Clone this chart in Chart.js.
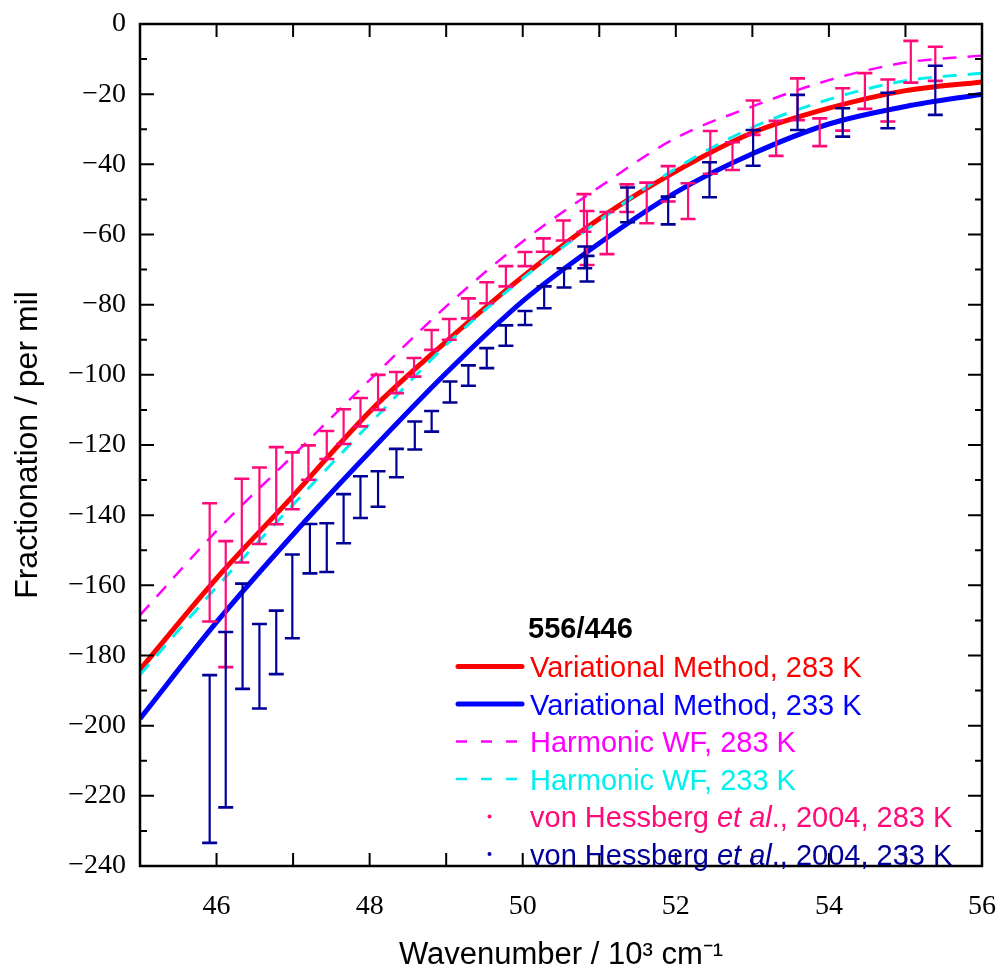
<!DOCTYPE html>
<html>
<head>
<meta charset="utf-8">
<script src="https://cdn.jsdelivr.net/npm/chart.js@4.4.1/dist/chart.umd.min.js"></script>
<style>
  html, body { margin: 0; padding: 0; background: #fff; }
  #wrap { position: relative; width: 1001px; height: 976px; }
</style>
</head>
<body>
<div id="wrap"><canvas id="fractionation-chart"></canvas></div>
<script>
// Curvas calculadas, en 10^3 cm^-1 y per mil.
const waveGrid = [45, 46, 47, 48, 49, 50, 51, 52, 53, 54, 55, 56];
const variational283 = [-184, -158, -134.5, -110.5, -90.5, -72, -55.5, -42, -31, -24, -19, -16.5];
const variational233 = [-198, -170.5, -145.5, -122, -99.5, -79, -62.5, -48, -37, -28.5, -23.5, -20];
const harmonic283 = [-168.5, -144.5, -123, -101.5, -80.5, -62, -46.5, -32.5, -23.5, -16, -11, -9];
const harmonic233 = [-185.5, -160.5, -137, -114, -91.5, -72.5, -56, -41.2, -29.5, -21.5, -16.2, -14];

// Medidas de von Hessberg et al. (2004): límites superior e inferior de cada barra.
const hessberg283Wave = [45.91, 46.12, 46.33, 46.56, 46.78, 46.99, 47.2, 47.44, 47.66, 47.88, 48.11, 48.35, 48.58, 48.81, 49.04, 49.29, 49.53, 49.78, 50.03, 50.27, 50.53, 50.8, 50.84, 51.1, 51.36, 51.62, 51.9, 52.16, 52.45, 52.74, 53.01, 53.31, 53.59, 53.88, 54.18, 54.47, 54.77, 55.07, 55.39];
const hessberg283Upper = [-136.6, -147.4, -129.6, -126.4, -120.6, -122.1, -120.1, -116, -109.8, -106.6, -100, -99.2, -95.2, -87.2, -84.1, -78.2, -73.6, -69, -65, -61.1, -56, -48.5, -53.3, -53.6, -45.7, -45.2, -40.5, -45.4, -30.5, -33.7, -21.8, -27.6, -15.5, -26.9, -18.3, -14, -15.8, -4.8, -6.5];
const hessberg283Lower = [-170.3, -183.3, -153.5, -148.2, -142.6, -138.3, -129.9, -124, -119.7, -114.7, -110, -105.2, -100.5, -92.9, -90, -83.9, -79.6, -74.8, -69, -64.9, -61.7, -59.2, -68.7, -65.6, -53.6, -56.8, -50.6, -55.6, -42.7, -41.6, -31.6, -37.6, -27.4, -34.8, -30.4, -24.2, -27.8, -16.7, -16.2];

const hessberg233Wave = [45.91, 46.12, 46.34, 46.56, 46.78, 46.99, 47.22, 47.44, 47.66, 47.88, 48.11, 48.35, 48.59, 48.81, 49.05, 49.29, 49.53, 49.78, 50.03, 50.28, 50.54, 50.81, 50.84, 51.37, 51.9, 52.44, 53.01, 53.59, 54.18, 54.77, 55.39];
const hessberg233Upper = [-185.6, -173.3, -159.5, -171, -167.2, -151.2, -142.5, -142.3, -134, -128.9, -127.5, -121.1, -113.3, -110.3, -101.9, -97.3, -92.4, -85.9, -81.8, -74.8, -69.6, -63.4, -66.1, -46.6, -49.2, -39.4, -30.2, -20.2, -24, -19.6, -11.9];
const hessberg233Lower = [-233.4, -223.3, -189.5, -195.1, -185.3, -175.1, -156.6, -156.2, -148, -140.8, -137.6, -129.2, -121.3, -116.2, -107.9, -103.1, -98.1, -91.7, -85.8, -81, -75.1, -69.6, -73.4, -56.5, -57.1, -49.4, -40.4, -30.2, -32.1, -29.7, -25.9];

const PINK = "#ff0a78";
const NAVY = "#000099";
const CYAN = "#00f0f0";

function toPoints(xs, ys) {
  return xs.map((v, i) => ({ x: v, y: ys[i] }));
}

function midPoints(xs, up, low) {
  return xs.map((v, i) => ({ x: v, y: (up[i] + low[i]) / 2 }));
}

// Barras de error dibujadas con las escalas del gráfico.
const errorBars = {
  id: "errorBars",
  afterDatasetsDraw(chart) {
    const { ctx, scales: { x, y } } = chart;
    const series = [
      { xs: hessberg283Wave, up: hessberg283Upper, low: hessberg283Lower, color: PINK },
      { xs: hessberg233Wave, up: hessberg233Upper, low: hessberg233Lower, color: NAVY },
    ];
    ctx.save();
    series.forEach(s => {
      ctx.strokeStyle = s.color;
      s.xs.forEach((v, i) => {
        const px = x.getPixelForValue(v);
        const top = y.getPixelForValue(s.up[i]);
        const bot = y.getPixelForValue(s.low[i]);
        ctx.lineWidth = 2.2;
        ctx.beginPath();
        ctx.moveTo(px, top);
        ctx.lineTo(px, bot);
        ctx.stroke();
        ctx.lineWidth = 2.6;
        ctx.beginPath();
        ctx.moveTo(px - 7.5, top);
        ctx.lineTo(px + 7.5, top);
        ctx.moveTo(px - 7.5, bot);
        ctx.lineTo(px + 7.5, bot);
        ctx.stroke();
      });
    });
    ctx.restore();
  },
};

// Marco y marcas hacia dentro en los cuatro lados.
const frameTicks = {
  id: "frameTicks",
  afterDraw(chart) {
    const { ctx, chartArea: a, scales: { x, y } } = chart;
    ctx.save();
    ctx.strokeStyle = "#000";
    ctx.lineWidth = 2;
    ctx.beginPath();
    x.ticks.forEach(t => {
      const px = x.getPixelForValue(t.value);
      ctx.moveTo(px, a.bottom);
      ctx.lineTo(px, a.bottom - 13);
      ctx.moveTo(px, a.top);
      ctx.lineTo(px, a.top + 13);
    });
    for (let v = y.min; v <= y.max; v += 10) {
      const py = y.getPixelForValue(v);
      const len = v % 20 === 0 ? 14 : 7;
      ctx.moveTo(a.left, py);
      ctx.lineTo(a.left + len, py);
      ctx.moveTo(a.right, py);
      ctx.lineTo(a.right - len, py);
    }
    ctx.stroke();
    ctx.lineWidth = 2.5;
    ctx.strokeRect(a.left, a.top, a.right - a.left, a.bottom - a.top);
    ctx.restore();
  },
};

// Leyenda propia (texto de colores y "et al." en cursiva).
const customLegend = {
  id: "customLegend",
  afterDraw(chart) {
    const ctx = chart.ctx;
    const family = "'Liberation Sans', Arial, sans-serif";
    const rows = [
      { kind: "solid", color: "#ff0000", parts: [["Variational Method, 283 K", false]] },
      { kind: "solid", color: "#0000ff", parts: [["Variational Method, 233 K", false]] },
      { kind: "dash", color: "#ff00ff", parts: [["Harmonic WF, 283 K", false]] },
      { kind: "dash", color: CYAN, parts: [["Harmonic WF, 233 K", false]] },
      { kind: "dot", color: PINK, parts: [["von Hessberg ", false], ["et al", true], ["., 2004, 283 K", false]] },
      { kind: "dot", color: NAVY, parts: [["von Hessberg ", false], ["et al", true], ["., 2004, 233 K", false]] },
    ];
    ctx.save();
    ctx.textBaseline = "alphabetic";
    ctx.fillStyle = "#000";
    ctx.font = "bold 29px " + family;
    ctx.fillText("556/446", 528, 638);
    rows.forEach((row, i) => {
      const cy = 666.5 + i * 37.5;
      ctx.strokeStyle = row.color;
      ctx.fillStyle = row.color;
      if (row.kind === "solid") {
        ctx.lineWidth = 5;
        ctx.lineCap = "round";
        ctx.beginPath();
        ctx.moveTo(458, cy);
        ctx.lineTo(522, cy);
        ctx.stroke();
      } else if (row.kind === "dash") {
        ctx.lineWidth = 2.5;
        ctx.lineCap = "butt";
        ctx.setLineDash([11, 14]);
        ctx.beginPath();
        ctx.moveTo(456, cy);
        ctx.lineTo(522, cy);
        ctx.stroke();
        ctx.setLineDash([]);
      } else {
        ctx.beginPath();
        ctx.arc(489.5, cy, 2, 0, Math.PI * 2);
        ctx.fill();
      }
      let tx = 530;
      row.parts.forEach(([text, italic]) => {
        ctx.font = (italic ? "italic " : "") + "29px " + family;
        ctx.fillText(text, tx, cy + 10.5);
        tx += ctx.measureText(text).width;
      });
    });
    ctx.restore();
  },
};

const ctx = document.getElementById("fractionation-chart").getContext("2d");

new Chart(ctx, {
  type: "line",
  data: {
    datasets: [
      {
        label: "Harmonic WF, 283 K",
        data: toPoints(waveGrid, harmonic283),
        borderColor: "#ff00ff",
        borderWidth: 2.5,
        borderDash: [14, 11],
        pointRadius: 0,
        cubicInterpolationMode: "monotone",
      },
      {
        label: "Harmonic WF, 233 K",
        data: toPoints(waveGrid, harmonic233),
        borderColor: CYAN,
        borderWidth: 3,
        borderDash: [14, 11],
        pointRadius: 0,
        cubicInterpolationMode: "monotone",
      },
      {
        label: "Variational Method, 283 K",
        data: toPoints(waveGrid, variational283),
        borderColor: "#ff0000",
        borderWidth: 5,
        pointRadius: 0,
        cubicInterpolationMode: "monotone",
      },
      {
        label: "Variational Method, 233 K",
        data: toPoints(waveGrid, variational233),
        borderColor: "#0000ff",
        borderWidth: 5,
        pointRadius: 0,
        cubicInterpolationMode: "monotone",
      },
      {
        label: "von Hessberg et al., 2004, 283 K",
        data: midPoints(hessberg283Wave, hessberg283Upper, hessberg283Lower),
        showLine: false,
        pointRadius: 0,
        pointBackgroundColor: PINK,
      },
      {
        label: "von Hessberg et al., 2004, 233 K",
        data: midPoints(hessberg233Wave, hessberg233Upper, hessberg233Lower),
        showLine: false,
        pointRadius: 0,
        pointBackgroundColor: NAVY,
      },
    ],
  },
  options: {
    responsive: true,
    maintainAspectRatio: false,
    animation: false,
    layout: { padding: { top: 24, right: 19, left: 0, bottom: 0 } },
    plugins: {
      legend: { display: false },
      tooltip: { enabled: false },
    },
    scales: {
      x: {
        type: "linear",
        min: 45,
        max: 56,
        grid: { display: false, drawTicks: false },
        border: { display: false },
        ticks: {
          stepSize: 1,
          autoSkip: false,
          maxRotation: 0,
          padding: 24,
          color: "#000",
          font: { family: "'Liberation Serif', 'Times New Roman', serif", size: 28 },
          callback: v => (v % 2 === 0 ? String(v) : ""),
        },
        title: {
          display: true,
          text: "Wavenumber / 10³ cm⁻¹",
          color: "#000",
          font: { family: "'Liberation Sans', Arial, sans-serif", size: 31 },
          padding: { top: 0, bottom: 2 },
        },
        afterFit(scale) {
          scale.height = 110;
          scale.paddingLeft = 0;
          scale.paddingRight = 0;
        },
      },
      y: {
        min: -240,
        max: 0,
        grid: { display: false, drawTicks: false },
        border: { display: false },
        ticks: {
          stepSize: 20,
          padding: 14,
          color: "#000",
          font: { family: "'Liberation Serif', 'Times New Roman', serif", size: 28 },
          callback: v => (v < 0 ? "\u2212" + Math.abs(v) : String(v)),
        },
        title: {
          display: true,
          text: "Fractionation / per mil",
          color: "#000",
          font: { family: "'Liberation Sans', Arial, sans-serif", size: 32 },
          padding: { top: 9, bottom: 0 },
        },
        afterFit(scale) {
          scale.width = 140;
          scale.paddingTop = 0;
          scale.paddingBottom = 0;
        },
      },
    },
  },
  plugins: [errorBars, frameTicks, customLegend],
});
</script>
</body>
</html>
